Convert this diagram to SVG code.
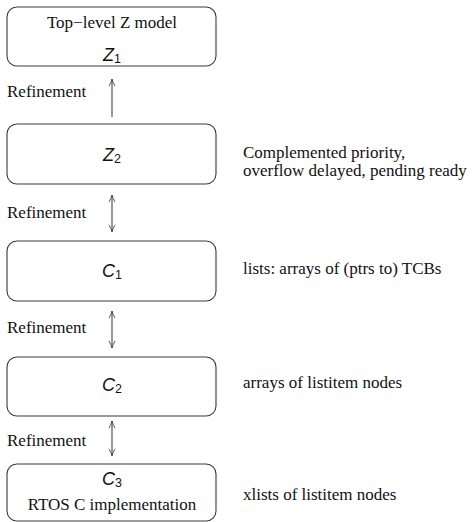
<svg xmlns="http://www.w3.org/2000/svg" width="476" height="522" viewBox="0 0 476 522">
  <style>
    .box { fill: #ffffff; stroke: #3a3a3a; stroke-width: 1.1; }
    .txt { font-family: "Liberation Serif", "Times New Roman", serif; font-size: 17px; fill: #111; }
    .math { font-family: "Liberation Sans", Arial, sans-serif; font-style: italic; font-size: 18px; fill: #111; }
    .sub { font-style: normal; font-size: 12.5px; }
    .conn { stroke: #444; stroke-width: 1.1; fill: none; }
  </style>
  <defs>
    <marker id="barb" viewBox="0 0 10 10" refX="10" refY="5" markerWidth="8" markerHeight="8" markerUnits="userSpaceOnUse" orient="auto-start-reverse">
      <path d="M1,1.2 Q6,4 10,5 Q6,6 1,8.8" fill="none" stroke="#444" stroke-width="1.1"/>
    </marker>
  </defs>

  <rect width="476" height="522" fill="#ffffff"/>

  <g id="z1">
    <rect class="box" x="7" y="7" width="209" height="59" rx="10"/>
    <text class="txt" x="112" y="28" text-anchor="middle">Top−level Z model</text>
    <text class="math" x="112" y="61" text-anchor="middle">Z<tspan class="sub" dy="2">1</tspan></text>
  </g>

  <g id="z2">
    <rect class="box" x="7" y="124" width="209" height="60" rx="10"/>
    <text class="math" x="112" y="161" text-anchor="middle">Z<tspan class="sub" dy="2">2</tspan></text>
    <text class="txt" x="243" y="158">Complemented priority,</text>
    <text class="txt" x="243" y="176">overflow delayed, pending ready</text>
  </g>

  <g id="c1">
    <rect class="box" x="7" y="241" width="209" height="60" rx="10"/>
    <text class="math" x="112" y="277" text-anchor="middle">C<tspan class="sub" dy="2">1</tspan></text>
    <text class="txt" x="243" y="274">lists: arrays of (ptrs to) TCBs</text>
  </g>

  <g id="c2">
    <rect class="box" x="7" y="357" width="209" height="59" rx="10"/>
    <text class="math" x="112" y="391" text-anchor="middle">C<tspan class="sub" dy="2">2</tspan></text>
    <text class="txt" x="243" y="388">arrays of listitem nodes</text>
  </g>

  <g id="c3">
    <rect class="box" x="7" y="464" width="209" height="57" rx="10"/>
    <text class="math" x="112" y="485" text-anchor="middle">C<tspan class="sub" dy="2">3</tspan></text>
    <text class="txt" x="112" y="510" text-anchor="middle">RTOS C implementation</text>
    <text class="txt" x="243" y="500">xlists of listitem nodes</text>
  </g>

  <g id="connectors">
    <line class="conn" x1="112" y1="117" x2="112" y2="79" marker-end="url(#barb)"/>
    <text class="txt" x="7" y="97">Refinement</text>
    <line class="conn" x1="112" y1="195" x2="112" y2="232" marker-start="url(#barb)" marker-end="url(#barb)"/>
    <text class="txt" x="7" y="218">Refinement</text>
    <line class="conn" x1="112" y1="311" x2="112" y2="348" marker-start="url(#barb)" marker-end="url(#barb)"/>
    <text class="txt" x="7" y="333">Refinement</text>
    <line class="conn" x1="112" y1="421" x2="112" y2="456" marker-start="url(#barb)" marker-end="url(#barb)"/>
    <text class="txt" x="7" y="446">Refinement</text>
  </g>
</svg>
